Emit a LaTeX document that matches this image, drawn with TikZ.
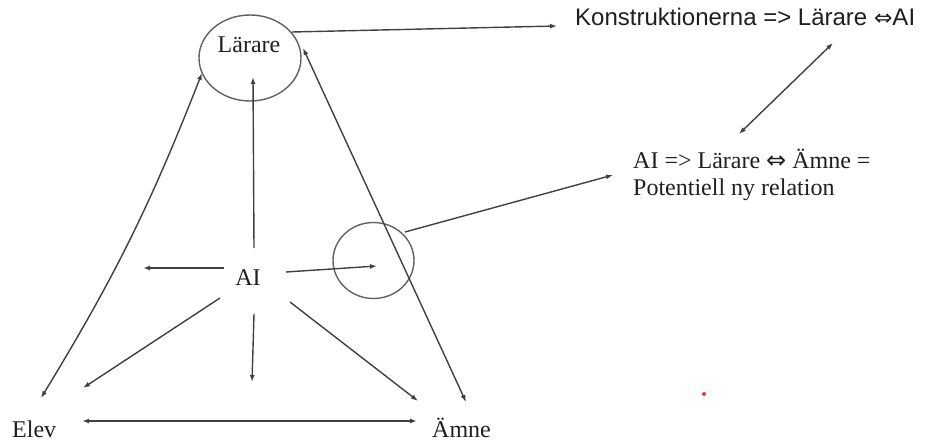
\documentclass[tikz,border=0pt]{standalone}
\usepackage{fontspec}
\setmainfont{Liberation Serif}
\newfontfamily\sansf{Liberation Sans}
\newfontfamily\symf{DejaVu Sans}
\usetikzlibrary{arrows.meta,shapes.geometric}
\begin{document}
\begin{tikzpicture}[x=1pt,y=-1pt,
  lbl/.style={inner sep=0pt,font=\fontsize{24}{27}\selectfont,text=black!88},
  conn/.style={draw=black!75,line width=1.4pt},
  tip/.tip={Latex[length=7pt,width=5pt]},
  arr/.style={conn,-tip},
  darr/.style={conn,tip-tip},
  ring/.style={draw=black!62,line width=1.4pt,ellipse,inner sep=0pt}]
\useasboundingbox (0,0) rectangle (926,441);
% rings
\node[ring,minimum width=102pt,minimum height=86pt] (larring) at (250,58) {};
\node[ring,minimum width=81pt,minimum height=76pt] (spot) at (373.5,260.5) {};
% labels
\node[lbl,anchor=base] (lar) at (249,53) {Lärare};
\node[lbl,anchor=base] (ai) at (248,285) {AI};
\node[lbl,anchor=base west] (elev) at (12,437) {Elev};
\node[lbl,anchor=base west] (amne) at (432,437) {Ämne};
\node[lbl,anchor=base west] (konstr) at (575,26) {\sansf Konstruktionerna => Lärare {\symf\fontsize{22}{22}\selectfont ⇔}AI};
\node[lbl,anchor=base west] (rel1) at (633,168) {AI => Lärare {\symf ⇔} Ämne =};
\node[lbl,anchor=base west] (rel2) at (633,195) {Potentiell ny relation};
% endpoints
\coordinate (elA) at (41,398);
\coordinate (elB) at (202,73);
\coordinate (amA) at (466,402);
\coordinate (amB) at (303,48);
\coordinate (bL) at (82,421);
\coordinate (bR) at (417,421);
\coordinate (aiL0) at (224,268);
\coordinate (aiL1) at (143,268);
\coordinate (aiR0) at (286,272);
\coordinate (aiR1) at (377,266);
\coordinate (aiU0) at (254,248);
\coordinate (aiU1) at (253,77);
\coordinate (aiD0) at (254,314);
\coordinate (aiD1) at (252,382);
\coordinate (aiDL0) at (220,298);
\coordinate (aiDL1) at (83,388);
\coordinate (aiDR0) at (290,302);
\coordinate (aiDR1) at (418,401);
\coordinate (sp0) at (405,232);
\coordinate (sp1) at (613,175);
\coordinate (lk0) at (292,32);
\coordinate (lk1) at (557,26);
\coordinate (kr0) at (833,43);
\coordinate (kr1) at (739,134);
% connectors
\draw[darr] (elA) to[bend right=5] (elB);
\draw[darr] (amA) -- (amB);
\draw[darr] (bL) -- (bR);
\draw[arr] (aiL0) -- (aiL1);
\draw[arr] (aiR0) -- (aiR1);
\draw[arr] (aiU0) -- (aiU1);
\draw[arr] (aiD0) -- (aiD1);
\draw[arr] (aiDL0) -- (aiDL1);
\draw[arr] (aiDR0) -- (aiDR1);
\draw[arr] (sp0) -- (sp1);
\draw[arr] (lk0) -- (lk1);
\draw[darr] (kr0) -- (kr1);
% red dot
\fill[red!80] (704,394) circle (2pt);
\end{tikzpicture}
\end{document}
